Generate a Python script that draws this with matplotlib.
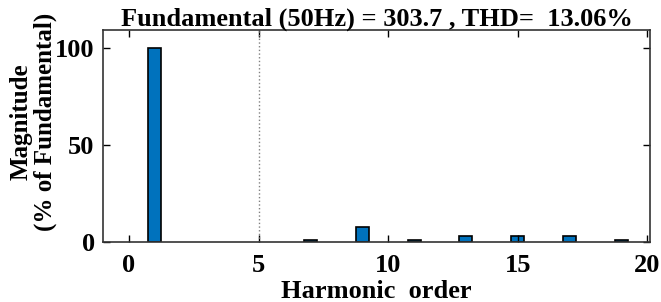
import numpy as np
import matplotlib.pyplot as plt

plt.rcParams['font.family'] = 'Liberation Serif'
plt.rcParams['font.weight'] = 'bold'

# harmonic orders 0..20 and magnitudes (% of fundamental)
orders = np.arange(0, 21)
mags = np.array([0, 100, 0, 0, 0, 0, 0, 1.0, 0, 7.8, 0, 0.9, 0, 3.1, 0, 3.0, 0, 3.1, 0, 0.9, 0])
title = "Fundamental (50Hz) = 303.7 , THD=  13.06%"

fig = plt.figure(figsize=(6.61, 3.02), dpi=100)
ax = fig.add_axes([103/661, 60/302, 547/661, 212/302])

nz = mags > 0
ax.bar(orders[nz], mags[nz], width=0.5, color="#0072BD", edgecolor="k", linewidth=1.2)
ax.axvline(5, color="0.5", linestyle=":", linewidth=1)

ax.set_xlim(-1, 20.1)
ax.set_ylim(0, 109)
ax.set_xticks([0, 5, 10, 15, 20])
ax.set_yticks([0, 50, 100])
ax.tick_params(direction="in", top=True, right=True, labelsize=19, length=5, width=1)
ax.tick_params(axis="x", pad=9)
ax.tick_params(axis="y", pad=6)
for s in ax.spines.values():
    s.set_linewidth(1.2)
    s.set_color("0.2")

ax.set_xlabel("Harmonic  order", fontsize=19, fontweight="bold", labelpad=2)
ax.set_ylabel("Magnitude\n(% of Fundamental)", fontsize=18, fontweight="bold", linespacing=1.05)
ax.yaxis.set_label_coords(-0.084, 0.566)
ax.set_title(title, fontsize=19, fontweight="bold", pad=3)

fig.savefig("out.png", dpi=100)
